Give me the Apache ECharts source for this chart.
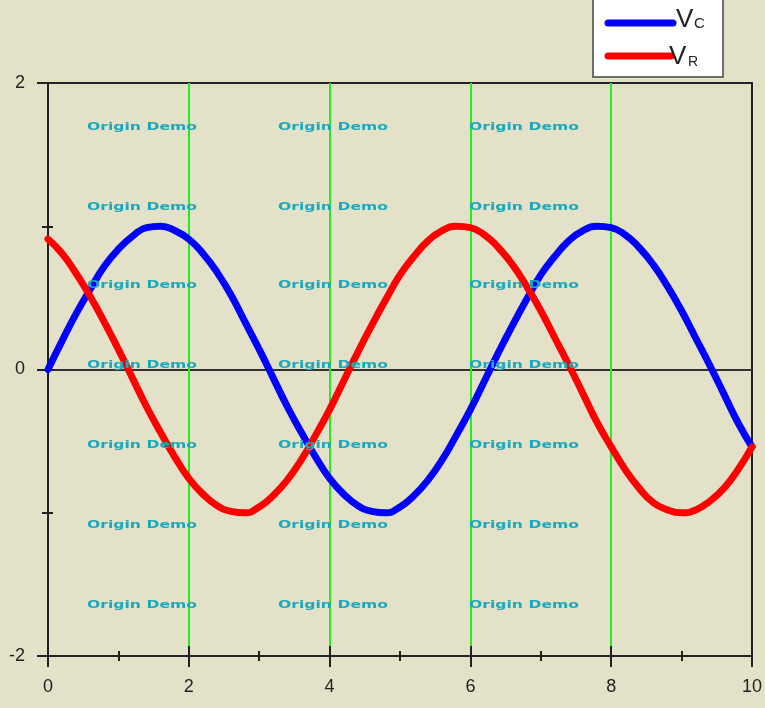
<!DOCTYPE html>
<html>
<head>
<meta charset="utf-8">
<script src="https://cdn.jsdelivr.net/npm/echarts@6/dist/echarts.min.js"></script>
<style>
html,body{margin:0;padding:0;background:#e3e1c8;}
#chart{width:765px;height:708px;}
</style>
</head>
<body>
<div id="chart"></div>
<script>
// ---- data ----
var xValues = [0,0.2,0.4,0.6,0.8,1.0,1.2,1.4,1.6,1.8,2.0,2.2,2.4,2.6,2.8,3.0,3.2,3.4,3.6,3.8,4.0,4.2,4.4,4.6,4.8,5.0,5.2,5.4,5.6,5.8,6.0,6.2,6.4,6.6,6.8,7.0,7.2,7.4,7.6,7.8,8.0,8.2,8.4,8.6,8.8,9.0,9.2,9.4,9.6,9.8,10.0];
var vcValues = [0,0.20,0.39,0.56,0.72,0.84,0.93,0.99,1.00,0.97,0.91,0.81,0.68,0.52,0.33,0.14,-0.06,-0.26,-0.44,-0.61,-0.76,-0.87,-0.95,-0.99,-1.00,-0.96,-0.88,-0.77,-0.63,-0.46,-0.28,-0.08,0.12,0.31,0.49,0.66,0.79,0.90,0.97,1.00,0.99,0.94,0.85,0.73,0.58,0.41,0.22,0.03,-0.17,-0.37,-0.54];
var vrValues = [0.91,0.81,0.67,0.51,0.33,0.14,-0.06,-0.26,-0.44,-0.61,-0.76,-0.87,-0.95,-0.99,-1.00,-0.96,-0.88,-0.77,-0.63,-0.46,-0.28,-0.08,0.12,0.31,0.49,0.66,0.79,0.90,0.97,1.00,0.99,0.94,0.85,0.73,0.58,0.41,0.22,0.03,-0.17,-0.37,-0.54,-0.70,-0.83,-0.93,-0.98,-1.00,-0.98,-0.92,-0.83,-0.70,-0.54];
var seriesNames = ['Vc','VR'];
var xTickLabels = ['0','2','4','6','8','10'];
var yTickLabels = ['-2','0','2'];
var watermarkText = 'Origin Demo';

function pairs(xs, ys){ return xs.map(function(x,i){ return [x, ys[i]]; }); }

var AX = '#222';
var FONT = '"Liberation Sans", Arial, sans-serif';

var watermarks = [];
var wmCols = [87, 278, 469];
var wmRows = [127, 207, 285, 365, 445, 525, 605];
wmRows.forEach(function(y){
  wmCols.forEach(function(x){
    watermarks.push({
      type:'text', x:x, y:y, z:100, scaleX:1.42, scaleY:1,
      style:{text:watermarkText, fill:'#1aa9bd', font:'bold 11px "DejaVu Sans", sans-serif', verticalAlign:'middle', align:'left'}
    });
  });
});

function legendText(x, y, txt, size){
  return {type:'text', z:52, x:x, y:y, style:{text:txt, fill:'#222', font:size+'px '+FONT, verticalAlign:'middle', align:'left'}};
}

var chart = echarts.init(document.getElementById('chart'), null, {renderer:'canvas'});
var option = {
  backgroundColor:'#e3e1c8',
  animation:false,
  grid:{left:48, right:9, top:83, bottom:52, show:true, borderColor:AX, borderWidth:2, backgroundColor:'transparent'},
  xAxis:[{
    type:'value', min:0, max:10, interval:2, position:'bottom',
    axisLine:{show:true, onZero:false, lineStyle:{color:AX, width:2}},
    axisTick:{show:true, inside:false, length:11, lineStyle:{color:AX, width:2}},
    minorTick:{show:true, splitNumber:2, length:5, lineStyle:{color:AX, width:2}},
    axisLabel:{color:AX, fontSize:18, fontFamily:FONT, margin:22,
      formatter:function(v){ var i = Math.round(v/2); return xTickLabels[i] !== undefined ? xTickLabels[i] : ''; }},
    splitLine:{show:true, lineStyle:{color:['transparent','#22ee22','#22ee22','#22ee22','#22ee22','transparent'], width:2}}
  },{
    type:'value', min:0, max:10, interval:2, position:'bottom',
    axisLine:{show:false, onZero:false},
    axisTick:{show:true, inside:true, length:10, lineStyle:{color:AX, width:2}},
    minorTick:{show:true, splitNumber:2, length:5, lineStyle:{color:AX, width:2}},
    axisLabel:{show:false}, splitLine:{show:false}
  }],
  yAxis:[{
    type:'value', min:-2, max:2, interval:2, position:'left',
    axisLine:{show:true, onZero:false, lineStyle:{color:AX, width:2}},
    axisTick:{show:true, inside:false, length:11, lineStyle:{color:AX, width:2}},
    minorTick:{show:true, splitNumber:2, length:6, lineStyle:{color:AX, width:2}},
    axisLabel:{color:AX, fontSize:18, fontFamily:FONT, margin:23,
      formatter:function(v){ var i = Math.round((v+2)/2); return yTickLabels[i] !== undefined ? yTickLabels[i] : ''; }},
    splitLine:{show:true, lineStyle:{color:['transparent','#333','transparent'], width:2}}
  },{
    type:'value', min:-2, max:2, interval:2, position:'left',
    axisLine:{show:false, onZero:false},
    axisTick:{show:true, inside:true, length:6, lineStyle:{color:AX, width:2}},
    minorTick:{show:true, splitNumber:2, length:5, lineStyle:{color:AX, width:2}},
    axisLabel:{show:false}, splitLine:{show:false}
  }],
  series:[{
    name:seriesNames[0], type:'line', data:pairs(xValues, vcValues), smooth:true, showSymbol:false,
    lineStyle:{color:'#0000ff', width:7, cap:'round', join:'round'}, z:3
  },{
    name:seriesNames[1], type:'line', data:pairs(xValues, vrValues), smooth:true, showSymbol:false,
    lineStyle:{color:'#ff0000', width:7, cap:'round', join:'round'}, z:4
  }],
  graphic:[
    {type:'rect', z:50, shape:{x:593, y:-10, width:130, height:87}, style:{fill:'#ffffff', stroke:'#444', lineWidth:1.5}},
    {type:'line', z:51, shape:{x1:608, y1:23, x2:673, y2:23}, style:{stroke:'#0000ff', lineWidth:7, lineCap:'round'}},
    {type:'line', z:51, shape:{x1:608, y1:56, x2:671, y2:56}, style:{stroke:'#ff0000', lineWidth:7, lineCap:'round'}},
    legendText(676, 20, 'V', 26),
    legendText(694, 24, 'C', 15),
    legendText(669, 57, 'V', 26),
    legendText(688, 62, 'R', 14)
  ].concat(watermarks)
};
chart.setOption(option);
</script>
</body>
</html>
